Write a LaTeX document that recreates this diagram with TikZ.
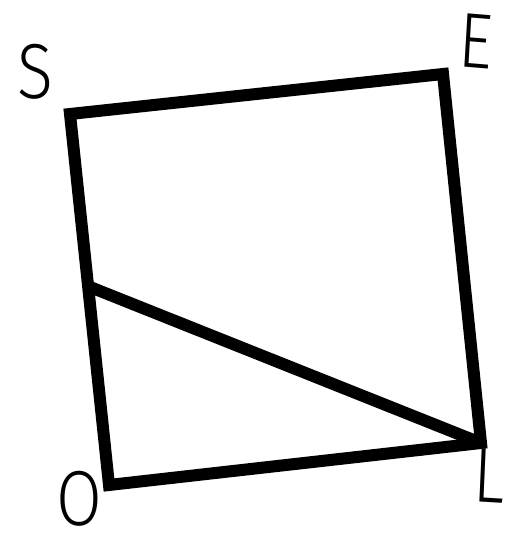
\documentclass[tikz,border=0pt]{standalone}
\usepackage{fontspec}
\newfontfamily\lblfont{Fira Sans Light}
\begin{document}
\begin{tikzpicture}[x=1pt,y=1pt,
  edge/.style={line width=12pt,line join=miter,line cap=rect},
  lbl/.style={font=\lblfont\fontsize{78}{78}\selectfont,inner sep=0pt,xscale=0.85}]
\useasboundingbox (0,0) rectangle (505,544);
\coordinate (S) at (70,430);
\coordinate (E) at (443,470);
\coordinate (L) at (481,101);
\coordinate (O) at (109,59);
\coordinate (P) at (90,257);
\draw[edge] (S) -- (E) -- (L) -- (O) -- cycle;
\draw[edge,line cap=butt] (P) -- (L);
\node[lbl] (s) at (35,472) {S};
\node[lbl,rotate=-4] (e) at (476,503) {E};
\node[lbl,anchor=south west,rotate=-3] (l) at (472,42) {L};
\node[lbl] (o) at (79,45) {O};
\end{tikzpicture}
\end{document}
